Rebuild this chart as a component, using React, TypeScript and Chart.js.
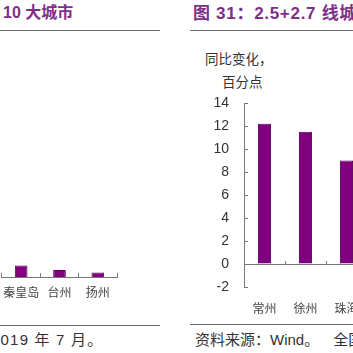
import React, { useEffect, useRef } from "react";
import { Chart, registerables } from "chart.js";
Chart.register(...registerables);

const rightCities = ["常州", "徐州", "珠海"];
const rightValues = [12.2, 11.5, 9.0];
const rightMin = -2;
const rightMax = 14;
const rightStep = 2;

const leftCities = ["秦皇岛", "台州", "扬州"];
const leftValues = [1.0, 0.6, 0.4];
const leftMin = 0;
const leftMax = 14;

const FONT = 'Arial, "Liberation Sans", "Noto Sans CJK SC", sans-serif';
const PURPLE = "#7E2F86";
const BAR = "#800080";
const BAR_BORDER = "#5c005c";
const AXIS = "#777";

const zeroPad = (s: any) => {
  s.paddingLeft = 0;
  s.paddingRight = 0;
  s.paddingTop = 0;
  s.paddingBottom = 0;
};

function RightChart() {
  const ref = useRef<HTMLCanvasElement | null>(null);
  useEffect(() => {
    if (!ref.current) return;
    const chart = new Chart(ref.current, {
      type: "bar",
      data: {
        labels: rightCities,
        datasets: [
          {
            data: rightValues,
            backgroundColor: BAR,
            borderColor: BAR_BORDER,
            borderWidth: 1,
            barPercentage: 0.32,
            categoryPercentage: 1,
            xAxisID: "x",
            yAxisID: "y",
          },
        ],
      },
      options: {
        animation: false,
        responsive: false,
        maintainAspectRatio: false,
        layout: { padding: { top: 12, right: 13, left: 0, bottom: 0 } },
        plugins: { legend: { display: false }, tooltip: { enabled: false } },
        scales: {
          x: {
            type: "category",
            position: { y: 0 } as any,
            offset: true,
            grid: { drawOnChartArea: false, drawTicks: true, tickLength: -4, color: AXIS, offset: true },
            border: { display: true, color: AXIS, width: 1 },
            ticks: { display: false },
            afterFit: (s: any) => { zeroPad(s); s.height = 0; },
          },
          x2: {
            type: "category",
            position: "bottom",
            labels: rightCities,
            offset: true,
            grid: { display: false, drawTicks: false },
            border: { display: false },
            ticks: { padding: 15, color: "#444", font: { family: FONT, size: 12 }, maxRotation: 0, autoSkip: false },
            afterFit: (s: any) => { zeroPad(s); s.height = 28; },
          },
          y: {
            type: "linear",
            min: rightMin,
            max: rightMax,
            ticks: { stepSize: rightStep, padding: 19, color: "#333", font: { family: FONT, size: 14 } },
            grid: { drawOnChartArea: false, tickLength: -4, color: AXIS },
            border: { color: AXIS, width: 1 },
            afterFit: (s: any) => { zeroPad(s); s.width = 64; },
          },
        },
      } as any,
    });
    return () => chart.destroy();
  }, []);
  return (
    <canvas
      ref={ref}
      width={200}
      height={224}
      style={{ position: "absolute", left: 180, top: 91, width: 200, height: 224 }}
    />
  );
}

function LeftChart() {
  const ref = useRef<HTMLCanvasElement | null>(null);
  useEffect(() => {
    if (!ref.current) return;
    const chart = new Chart(ref.current, {
      type: "bar",
      data: {
        labels: leftCities,
        datasets: [
          {
            data: leftValues,
            backgroundColor: BAR,
            borderColor: BAR_BORDER,
            borderWidth: 1,
            barPercentage: 0.33,
            categoryPercentage: 1,
          },
        ],
      },
      options: {
        animation: false,
        responsive: false,
        maintainAspectRatio: false,
        layout: { padding: { top: 6, right: 3, left: 2, bottom: 0 } },
        plugins: { legend: { display: false }, tooltip: { enabled: false } },
        scales: {
          x: {
            type: "category",
            offset: true,
            grid: { drawOnChartArea: false, tickLength: -4, color: AXIS, offset: true },
            border: { color: AXIS, width: 1 },
            ticks: { padding: 13, color: "#444", font: { family: FONT, size: 12 }, maxRotation: 0, autoSkip: false },
            afterFit: (s: any) => { zeroPad(s); s.height = 24; },
          },
          y: { display: false, min: leftMin, max: leftMax },
        },
      } as any,
    });
    return () => chart.destroy();
  }, []);
  return (
    <canvas
      ref={ref}
      width={120}
      height={191}
      style={{ position: "absolute", left: 0, top: 110, width: 120, height: 191 }}
    />
  );
}

export default function App() {
  const abs = (s: React.CSSProperties): React.CSSProperties => ({ position: "absolute", whiteSpace: "nowrap", ...s });
  return (
    <div
      style={{
        position: "fixed",
        left: 0,
        top: 0,
        width: 353,
        height: 353,
        overflow: "hidden",
        background: "#fff",
        fontFamily: FONT,
      }}
    >
      <div style={abs({ left: 3, top: 5, fontSize: 16, lineHeight: "16px", fontWeight: "bold", color: PURPLE })}>10 大城市</div>
      <div style={abs({ left: 0, top: 30, width: 160, height: 0, borderTop: "1px solid #666" })} />
      <div style={abs({ left: 193, top: 5, fontSize: 17, lineHeight: "17px", fontWeight: "bold", color: PURPLE, letterSpacing: "0.7px" })}>图 31：2.5+2.7 线城市</div>
      <div style={abs({ left: 190, top: 30, width: 200, height: 0, borderTop: "1px solid #666" })} />
      <div style={abs({ left: 205, top: 53, fontSize: 13.5, lineHeight: "14px", color: "#333" })}>同比变化，</div>
      <div style={abs({ left: 222, top: 76, fontSize: 13.5, lineHeight: "14px", color: "#333" })}>百分点</div>
      <LeftChart />
      <RightChart />
      <div style={abs({ left: 0, top: 325, width: 160, height: 0, borderTop: "1px solid #666" })} />
      <div style={abs({ left: -9, top: 332, fontSize: 15, lineHeight: "15px", color: "#333", letterSpacing: "1.2px" })}>2019 年 7 月。</div>
      <div style={abs({ left: 190, top: 324, width: 200, height: 0, borderTop: "1px solid #666" })} />
      <div style={abs({ left: 195, top: 332, fontSize: 15, lineHeight: "15px", color: "#333" })}>
        资料来源：Wind。<span style={{ marginLeft: 14 }}>全国</span>
      </div>
    </div>
  );
}
